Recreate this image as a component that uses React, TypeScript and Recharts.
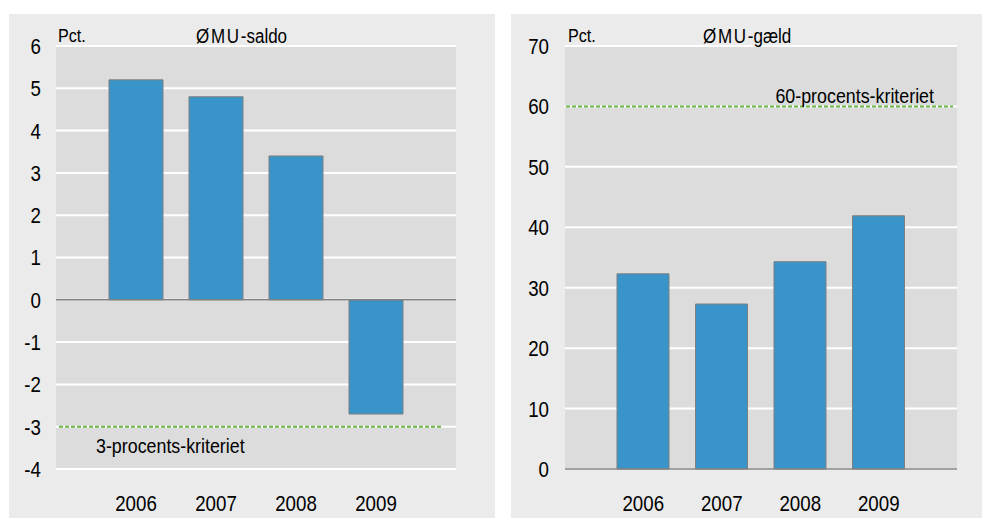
import React from 'react';
import { BarChart, Bar, XAxis, YAxis, CartesianGrid, ReferenceLine } from 'recharts';

const years = ['2006', '2007', '2008', '2009'];
const saldo = [5.2, 4.8, 3.4, -2.7];
const gaeld = [32.3, 27.3, 34.3, 41.9];
const saldoTicks = [-4, -3, -2, -1, 0, 1, 2, 3, 4, 5, 6];
const gaeldTicks = [0, 10, 20, 30, 40, 50, 60, 70];
const saldoLimit = -3;
const gaeldLimit = 60;

// no condensed font installed, so Liberation Sans gets squeezed a bit
const FONT = '"Liberation Sans", Arial, sans-serif';
const SQUEEZE = 0.85;
const BAR = '#3995c9';
const GREEN = '#6ab544';

const saldoData = years.map((year, i) => ({ year, value: saldo[i] }));
const gaeldData = years.map((year, i) => ({ year, value: gaeld[i] }));

const NarrowText = ({ x, y, anchor, dy, size, children }: any) => (
  <g transform={`translate(${x},${y})`}>
    <text transform={`scale(${SQUEEZE},1)`} textAnchor={anchor} dy={dy} fill="#000" fontSize={size} fontFamily={FONT}>
      {children}
    </text>
  </g>
);

const XTick = ({ x, y, payload }: any) => (
  <NarrowText x={x} y={y} anchor="middle" dy="0.71em" size={22}>
    {payload.value}
  </NarrowText>
);

const YTick = ({ x, y, payload }: any) => (
  <NarrowText x={x} y={y} anchor="end" dy="0.36em" size={22}>
    {payload.value}
  </NarrowText>
);

const htmlText = (size: number): React.CSSProperties => ({
  position: 'absolute',
  top: 9,
  fontSize: size,
  fontFamily: FONT,
  lineHeight: '26px',
  whiteSpace: 'nowrap',
  transform: `scaleX(${SQUEEZE})`,
  transformOrigin: 'left top',
});

const Header = ({ left, caps, rest, titleLeft }: { left: number; caps: string; rest: string; titleLeft: number }) => (
  <>
    <div style={{ ...htmlText(19), left }}>Pct.</div>
    <div style={{ ...htmlText(20), left: titleLeft }}>
      <span style={{ letterSpacing: 2 }}>{caps}</span>
      {rest}
    </div>
  </>
);

const App = () => {
  return (
    <div style={{ position: 'absolute', left: 0, top: 0, width: 982, height: 518, background: '#fff' }}>
      {/* left panel: ØMU-saldo */}
      <div style={{ position: 'absolute', left: 9, top: 14, width: 486, height: 504, background: '#ebebeb' }}>
        <BarChart width={486} height={504} data={saldoData} margin={{ top: 32, right: 39, left: 0, bottom: 0 }}>
          <CartesianGrid vertical={false} stroke="#fff" strokeWidth={2} fill="#dcdcdc" fillOpacity={1} />
          <XAxis
            dataKey="year"
            height={49}
            padding={{ left: 40, right: 40 }}
            axisLine={false}
            tickLine={false}
            tickSize={0}
            tickMargin={26}
            tick={<XTick />}
          />
          <YAxis
            width={47}
            domain={[-4, 6]}
            ticks={saldoTicks}
            axisLine={false}
            tickLine={false}
            tickSize={0}
            tickMargin={15}
            tick={<YTick />}
          />
          <ReferenceLine y={0} stroke="#808080" strokeWidth={1.5} />
          <Bar dataKey="value" fill={BAR} stroke="#7f7f7f" strokeWidth={1} barSize={54} isAnimationActive={false} />
          <ReferenceLine
            y={saldoLimit}
            shape={(p: any) => (
              <line x1={p.x1 + 3} y1={p.y1} x2={p.x2 - 15} y2={p.y2} stroke={GREEN} strokeWidth={2} strokeDasharray="4 2" />
            )}
            label={(p: any) => (
              <NarrowText x={p.viewBox.x + 40} y={p.viewBox.y + 26} anchor="start" size={21}>
                3-procents-kriteriet
              </NarrowText>
            )}
          />
        </BarChart>
        <Header left={49} caps="ØMU" rest="-saldo" titleLeft={187} />
      </div>

      {/* right panel: ØMU-gæld */}
      <div style={{ position: 'absolute', left: 511, top: 14, width: 471, height: 504, background: '#ebebeb' }}>
        <BarChart width={471} height={504} data={gaeldData} margin={{ top: 32, right: 25, left: 0, bottom: 0 }}>
          <CartesianGrid vertical={false} stroke="#fff" strokeWidth={2} fill="#dcdcdc" fillOpacity={1} />
          <XAxis
            dataKey="year"
            height={49}
            padding={{ left: 39, right: 39 }}
            axisLine={{ stroke: '#808080', strokeWidth: 1.5 }}
            tickLine={false}
            tickSize={0}
            tickMargin={26}
            tick={<XTick />}
          />
          <YAxis
            width={54}
            domain={[0, 70]}
            ticks={gaeldTicks}
            axisLine={false}
            tickLine={false}
            tickSize={0}
            tickMargin={16}
            tick={<YTick />}
          />
          <Bar dataKey="value" fill={BAR} stroke="#7f7f7f" strokeWidth={1} barSize={52} isAnimationActive={false} />
          <ReferenceLine
            y={gaeldLimit}
            shape={(p: any) => (
              <line x1={p.x1 + 1} y1={p.y1} x2={p.x2 - 4} y2={p.y2} stroke={GREEN} strokeWidth={2} strokeDasharray="4 2" />
            )}
            label={(p: any) => (
              <NarrowText x={p.viewBox.x + p.viewBox.width - 23} y={p.viewBox.y - 3} anchor="end" size={21}>
                60-procents-kriteriet
              </NarrowText>
            )}
          />
        </BarChart>
        <Header left={57} caps="ØMU" rest="-gæld" titleLeft={192} />
      </div>
    </div>
  );
};

export default App;
